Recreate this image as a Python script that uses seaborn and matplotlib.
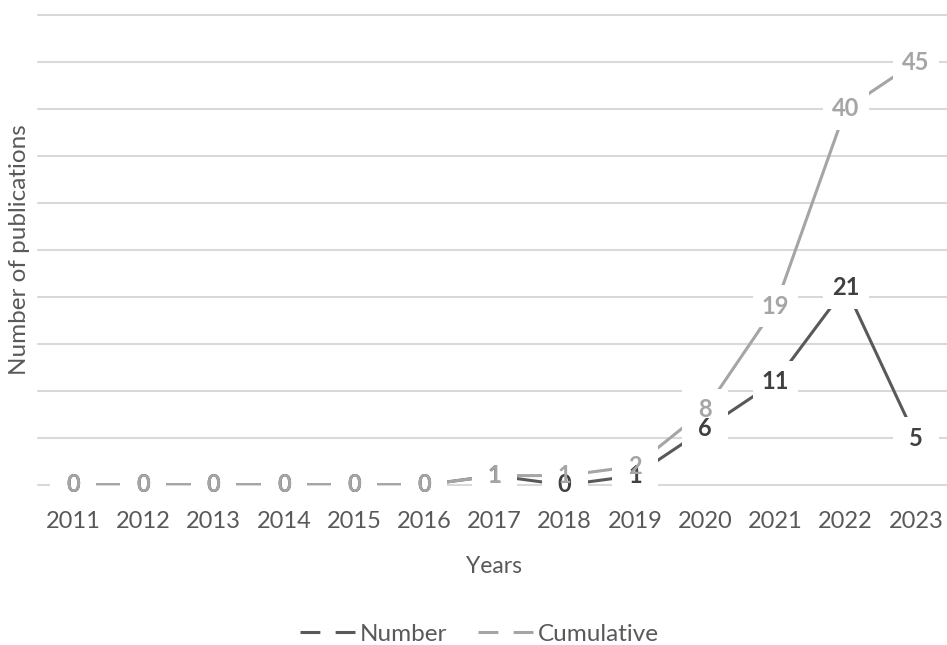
import matplotlib
matplotlib.use("Agg")
import matplotlib.pyplot as plt
from matplotlib.lines import Line2D
import seaborn as sns
import pandas as pd

# Publication counts per year
years = [2011, 2012, 2013, 2014, 2015, 2016, 2017, 2018, 2019, 2020, 2021, 2022, 2023]
number = [0, 0, 0, 0, 0, 0, 1, 0, 1, 6, 11, 21, 5]
cumulative = [0, 0, 0, 0, 0, 0, 1, 1, 2, 8, 19, 40, 45]

series_names = ["Number", "Cumulative"]
series_colors = {"Number": "#595959", "Cumulative": "#A5A5A5"}
label_colors = {"Number": "#404040", "Cumulative": "#A5A5A5"}

df = pd.DataFrame({
    "Year": years * 2,
    "Count": number + cumulative,
    "Series": ["Number"] * len(years) + ["Cumulative"] * len(years),
})

sns.set_theme(style="white")
plt.rcParams["font.family"] = ["Lato", "DejaVu Sans"]

fig = plt.figure(figsize=(9.47, 6.45), dpi=100)
ax = fig.add_axes([38 / 947, 160 / 645, 913 / 947, 470 / 645])

sns.lineplot(data=df, x="Year", y="Count", hue="Series", hue_order=series_names,
             palette=series_colors, linewidth=2.2, ax=ax, legend=False, zorder=2)

# White label backgrounds that interrupt the lines and gridlines
label_box = [(-1, -0.92), (1, -0.92), (1, 0.92), (-1, 0.92)]
sns.scatterplot(data=df, x="Year", y="Count", marker=label_box, s=33 ** 2,
                color="white", edgecolor="none", linewidth=0, ax=ax,
                zorder=3, clip_on=False, legend=False)

ax.set_xlim(2010.5, 2023.5)
ax.set_ylim(0, 50)
ax.set_yticks(range(0, 51, 5))
ax.set_yticklabels([])
ax.set_xticks(years)
ax.set_xticklabels([str(y) for y in years])
ax.grid(axis="y", color="#D9D9D9", linewidth=1.5, zorder=0)
ax.grid(axis="x", visible=False)
for sp in ax.spines.values():
    sp.set_visible(False)
ax.tick_params(axis="x", length=0, pad=19, labelsize=17, labelcolor="#595959")
ax.tick_params(axis="y", length=0)
for gl in ax.get_ygridlines():
    gl.set_clip_on(False)

ax.set_xlabel("Years", fontsize=16.5, color="#595959", labelpad=17)
ax.set_ylabel("Number of publications", fontsize=17.5, color="#595959")
ax.yaxis.set_label_coords(-0.009, 0.5)

# Data labels
for name, values, z in [("Number", number, 4), ("Cumulative", cumulative, 5)]:
    for x, v in zip(years, values):
        ax.text(x, v, f"{v}", ha="center", va="center", fontsize=17,
                fontweight="bold", color=label_colors[name], zorder=z)

handles = [Line2D([], [], color=series_colors[n], linewidth=2.2,
                  linestyle=(0, (6.5, 5.0))) for n in series_names]
fig.legend(handles, series_names, loc="center",
           bbox_to_anchor=(0.5 + 6 / 947, 11 / 645),
           ncol=2, frameon=False, fontsize=17.5, labelcolor="#595959",
           handlelength=2.4, handletextpad=0.05, columnspacing=1.3)

fig.savefig("out.png", dpi=100)
